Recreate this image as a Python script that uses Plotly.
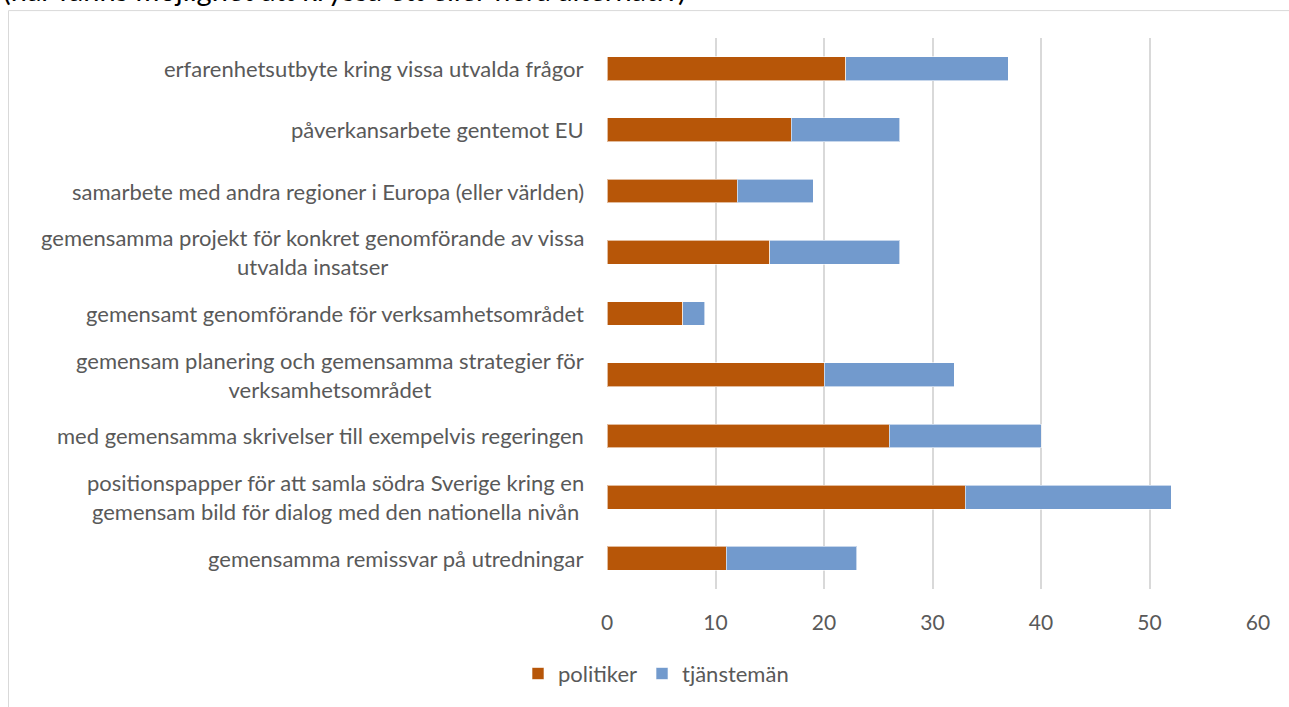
import plotly.graph_objects as go

# categories (top to bottom as shown)
kategorier = [
    "erfarenhetsutbyte kring vissa utvalda frågor",
    "påverkansarbete gentemot EU",
    "samarbete med andra regioner i Europa (eller världen)",
    "gemensamma projekt för konkret genomförande av vissa<br>utvalda insatser",
    "gemensamt genomförande för verksamhetsområdet",
    "gemensam planering och gemensamma strategier för<br>verksamhetsområdet",
    "med gemensamma skrivelser till exempelvis regeringen",
    "positionspapper för att samla södra Sverige kring en<br>gemensam bild för dialog med den nationella nivån",
    "gemensamma remissvar på utredningar",
]
politiker = [22, 17, 12, 15, 7, 20, 26, 33, 11]
tjansteman = [15, 10, 7, 12, 2, 12, 14, 19, 12]
x_ticks = [0, 10, 20, 30, 40, 50, 60]

W, H = 1289, 707
L, R, T, B = 607, 31, 38, 116
pw, ph = W - L - R, H - T - B
FONT = "Lato"
GREY = "#595959"

def px_x(p):
    return (p - L) / pw

def px_y(p):
    return (H - B - p) / ph

fig = go.Figure()
fig.add_trace(go.Bar(y=kategorier, x=politiker, name="politiker", orientation="h",
                     marker=dict(color="#B75608", line=dict(color="rgba(255,255,255,0.6)", width=1)),
                     width=0.39))
fig.add_trace(go.Bar(y=kategorier, x=tjansteman, name="tjänstemän", orientation="h",
                     marker=dict(color="#729ACD", line=dict(color="rgba(255,255,255,0.6)", width=1)),
                     width=0.39))

# category labels: right-aligned block, wrapped lines centred (like Excel)
for k in kategorier:
    fig.add_annotation(x=0, y=k, xref="x", yref="y", text=k, showarrow=False,
                       xanchor="right", yanchor="middle", align="center", xshift=-21,
                       font=dict(family=FONT, size=22, color=GREY))

# cropped document text above the chart
fig.add_annotation(x=px_x(1), y=px_y(-11), xref="paper", yref="paper", showarrow=False,
                   text="(här fanns möjlighet att kryssa ett eller flera alternativ)",
                   xanchor="left", yanchor="middle",
                   font=dict(family=FONT, size=29, color="#000000"))

# chart border
fig.add_shape(type="rect", xref="paper", yref="paper",
              x0=px_x(8.5), x1=px_x(1300), y0=px_y(800), y1=px_y(10.5),
              line=dict(color="#d9d9d9", width=1), layer="below")

fig.update_layout(
    width=W, height=H,
    margin=dict(l=L, r=R, t=T, b=B, pad=0),
    barmode="stack",
    paper_bgcolor="white", plot_bgcolor="white",
    font=dict(family=FONT, size=21, color=GREY),
    legend=dict(orientation="h", x=px_x(656), xanchor="center", y=px_y(676), yanchor="middle",
                font=dict(size=22, color=GREY), traceorder="normal",
                itemwidth=30, bgcolor="rgba(0,0,0,0)"),
    showlegend=True,
)
fig.update_xaxes(range=[0, 60], tickvals=x_ticks, showgrid=True, gridcolor="#d9d9d9", gridwidth=1.5,
                 zeroline=False, showline=False, ticks="", ticklabelstandoff=19,
                 tickfont=dict(size=21, color=GREY))
fig.update_yaxes(categoryorder="array", categoryarray=kategorier[::-1], showticklabels=False,
                 showgrid=False, zeroline=False, showline=False, ticks="")

fig.write_html("out.html", config={"displayModeBar": False},
               post_script="document.body.style.margin='0';document.body.style.overflow='hidden';")
